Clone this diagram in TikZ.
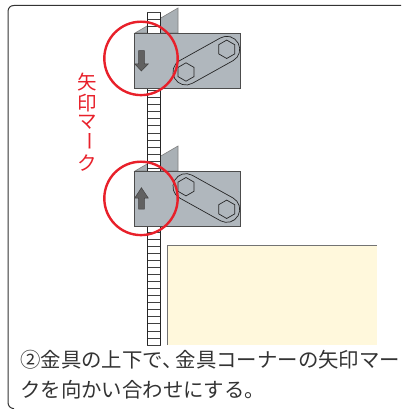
\documentclass[tikz,border=0pt]{standalone}
\usepackage{fontspec}
\newfontfamily\jp{Noto Sans CJK JP}
\definecolor{plate}{HTML}{B0B7BD}
\definecolor{cream}{HTML}{FFF8DC}
\definecolor{markred}{HTML}{E8202A}
\definecolor{ink}{HTML}{333333}
\tikzset{
  platebox/.style={fill=plate,draw=black!70,line width=0.9pt},
  flangeshape/.style={fill=plate!96!black,draw=black!50,line width=0.6pt},
  hexbolt/.style={draw=black!85,line width=0.7pt},
  slotline/.style={draw=black!85,line width=0.7pt,rounded corners=12.9pt},
  markarrow/.style={fill=black!62,draw=black!75,line width=0.5pt},
  redring/.style={draw=markred,line width=2.4pt},
  bodytext/.style={font=\jp\fontsize{20.4}{20.4}\selectfont,text=ink,inner sep=0pt,anchor=base west},
  redchar/.style={font=\jp\fontsize{19.5}{20}\selectfont,text=markred,inner sep=0pt,anchor=center}
}
\newcommand{\hexat}[2]{\draw[hexbolt] (#1,#2-9.2) -- (#1+8,#2-4.6) -- (#1+8,#2+4.6) -- (#1,#2+9.2) -- (#1-8,#2+4.6) -- (#1-8,#2-4.6) -- cycle;}
\begin{document}
\begin{tikzpicture}[x=1pt,y=-1pt]
\useasboundingbox (0,0) rectangle (401,409);
\fill[white] (0,0) rectangle (401,409);
% frame
\draw[black!80,line width=1pt] (14,408.7) .. controls (10,408.2) and (8,406) .. (8,402) -- (8,12) .. controls (8,8) and (10,5.5) .. (14,5.5) -- (401,5.5);
% cream panel
\fill[cream] (167,245) rectangle (377,345);
\draw[black!55,line width=0.9pt] (167,345) -- (167,245) -- (377,245);
% flanges
\draw[flangeshape] (135,33) -- (178,8) -- (178,33) -- cycle;
\draw[flangeshape] (135,171) -- (178,146) -- (178,171) -- cycle;
% rail
\fill[white] (147.4,12.7) rectangle (160.6,345);
\foreach \k in {0,...,47} {\draw[black!75,line width=0.7pt] (147.4,345-\k*7.07) -- (160.6,345-\k*7.07);}
\draw[black!85,line width=0.9pt] (147.4,345) -- (147.4,12.7);
\draw[black!85,line width=0.9pt] (160.6,345) -- (160.6,12.7);
% upper bracket
\draw[platebox] (134.5,33) rectangle (240,88);
\hexat{186}{72}
\hexat{226.7}{49.3}
\draw[slotline,shift={(206.35,60.65)},rotate=29.1] (-36.3,-13) rectangle (36.3,13);
\draw[markarrow] (138.5,50.7) -- (144.3,50.7) -- (144.3,64) -- (148.2,64) -- (141.4,71) -- (134.8,64) -- (138.5,64) -- cycle;
\draw[redring] (141,58.4) circle[radius=36.7];
% lower bracket
\draw[platebox] (134.5,171) rectangle (240,226);
\hexat{186}{186.7}
\hexat{226.7}{209.3}
\draw[slotline,shift={(206.35,198)},rotate=-29.1] (-36.3,-13) rectangle (36.3,13);
\draw[markarrow] (138.5,209) -- (144.3,209) -- (144.3,198) -- (148.2,198) -- (141.4,187.7) -- (134.8,198) -- (138.5,198) -- cycle;
\draw[redring] (141,198.4) circle[radius=36.7];
% vertical red label
\node[redchar] (c1) at (87,82) {矢};
\node[redchar] (c2) at (87,103.5) {印};
\node[redchar] (c3) at (87,122.5) {マ};
\node[redchar,rotate=-90] (c4) at (87,141.5) {ー};
\node[redchar] (c5) at (87,163) {ク};
% caption
\node[bodytext] (l1a) at (20,367.5) {②金具の上下で、};
\node[bodytext] (l1b) at (175.5,367.5) {金具コーナーの矢印マー};
\node[bodytext] (l2) at (20,397.5) {クを向かい合わせにする。};
\end{tikzpicture}
\end{document}
